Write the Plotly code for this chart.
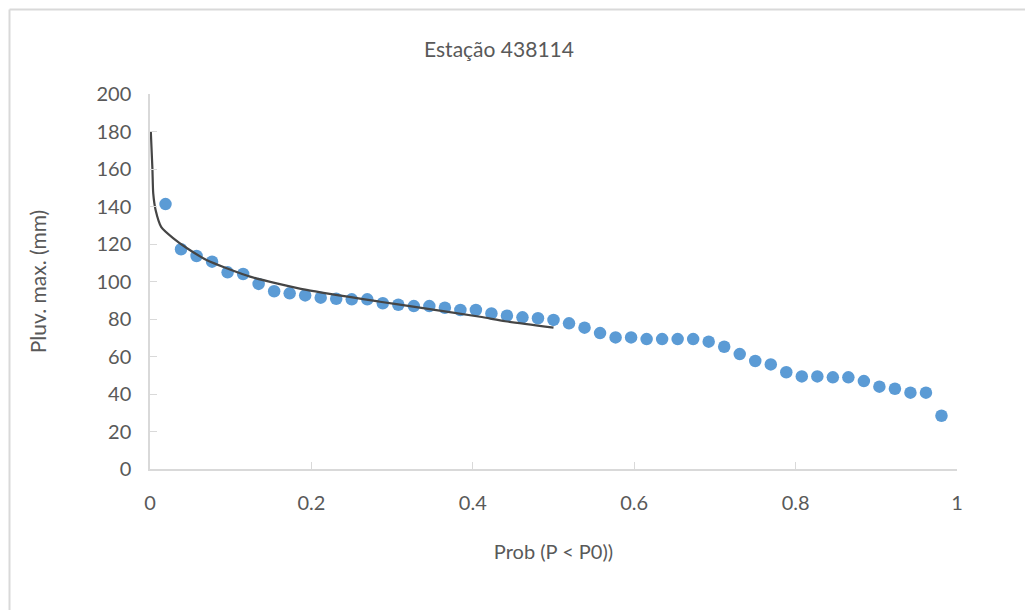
import plotly.graph_objects as go

# Observed data (plotting positions i/52) and maximum rainfall (mm)
prob = [i / 52 for i in range(1, 52)]
rain = [141.3, 117.2, 113.6, 110.6, 104.9, 104.0, 98.7, 94.8, 93.7, 92.6,
        91.4, 90.8, 90.5, 90.5, 88.4, 87.6, 86.9, 86.9, 86.0, 84.8,
        84.8, 83.0, 81.8, 80.9, 80.4, 79.5, 77.7, 75.4, 72.5, 70.2,
        70.2, 69.3, 69.3, 69.3, 69.3, 67.9, 65.2, 61.3, 57.6, 55.8,
        51.6, 49.4, 49.4, 48.9, 48.9, 46.9, 43.9, 42.8, 40.7, 40.7,
        28.4]

# Fitted curve
fit_p = [0.001, 0.003, 0.004, 0.007, 0.014, 0.029, 0.045, 0.07, 0.124,
         0.194, 0.285, 0.326, 0.409, 0.44, 0.5]
fit_y = [180, 160, 147, 138, 129, 123, 118, 111.5, 102.6,
         95.5, 89.2, 86.6, 81.2, 78.8, 75.4]

x_ticks = [0, 0.2, 0.4, 0.6, 0.8, 1]
x_tick_text = ["0", "0.2", "0.4", "0.6", "0.8", "1"]
y_ticks = list(range(0, 201, 20))

FONT = "Lato"
TXT = "#595959"
AX = "#d9d9d9"
OFF = 8  # page body offset

fig = go.Figure()
fig.add_trace(go.Scatter(x=prob, y=rain, mode="markers",
                         marker=dict(color="#5B9BD5", size=12.5, line=dict(width=0)),
                         showlegend=False))
fig.add_trace(go.Scatter(x=fit_p, y=fit_y, mode="lines",
                         line=dict(color="#454545", width=2.2, shape="spline", smoothing=0.6),
                         showlegend=False))

fig.update_layout(
    width=1033, height=610,
    margin=dict(l=150 - OFF, r=76 + OFF, t=94 - OFF, b=141 + OFF),
    paper_bgcolor="white", plot_bgcolor="white",
    font=dict(family=FONT, color=TXT, size=20),
    title=dict(text="Estação 438114", x=(499 - OFF) / 1033, xref="container", xanchor="center",
               y=1 - (50 - OFF) / 610, yref="container", yanchor="middle",
               font=dict(family=FONT, size=21, color=TXT)),
    xaxis=dict(range=[0, 1], tickvals=x_ticks, ticktext=x_tick_text,
               showgrid=False, zeroline=False, showline=True, linecolor=AX, linewidth=1.5,
               ticks="inside", ticklen=7, tickcolor=AX, tickwidth=1,
               ticklabelstandoff=15,
               title=dict(text="Prob (P < P0))", standoff=32, font=dict(size=20, color=TXT))),
    yaxis=dict(range=[0, 200], tickvals=y_ticks,
               showgrid=False, zeroline=False, showline=True, linecolor=AX, linewidth=1.5,
               ticks="inside", ticklen=7, tickcolor=AX, tickwidth=1,
               ticklabelstandoff=13,
               title=dict(text="Pluv. max. (mm)", standoff=44, font=dict(size=21, color=TXT))),
)

# outer chart border (light gray), as in the reference
# positions given in on-screen pixels; plot area sits at 150..957 x 94..469
pw, ph = 807, 375
def px_x(v):
    return (v - 150) / pw
def px_y(v):
    return (469 - v) / ph
fig.add_shape(type="line", xref="paper", yref="paper",
              x0=px_x(9.5), x1=px_x(9.5), y0=px_y(640), y1=px_y(9.5),
              line=dict(color=AX, width=2))
fig.add_shape(type="line", xref="paper", yref="paper",
              x0=px_x(9.5), x1=px_x(1060), y0=px_y(9.5), y1=px_y(9.5),
              line=dict(color=AX, width=2))

fig.write_html("out.html")
